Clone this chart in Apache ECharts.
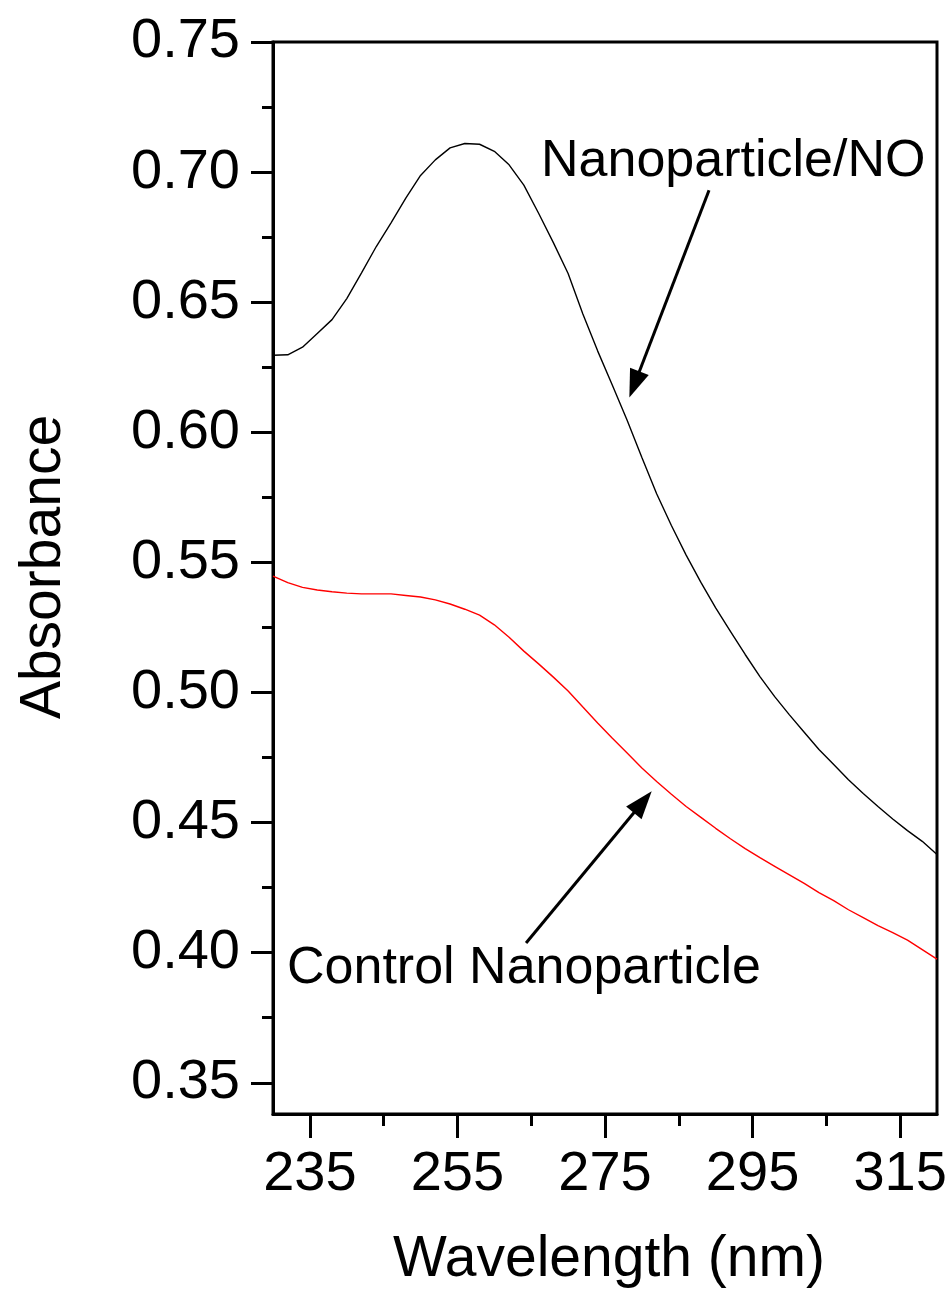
<!DOCTYPE html>
<html>
<head>
<meta charset="utf-8">
<script src="https://cdn.jsdelivr.net/npm/echarts@6/dist/echarts.min.js"></script>
<style>
  html, body { margin: 0; padding: 0; background: #fff; }
  #chart { width: 951px; height: 1303px; }
</style>
</head>
<body>
<div id="chart"></div>
<script>
// wavelength (nm)
const wavelength = [230, 232, 234, 236, 238, 240, 242, 244, 246, 248, 250, 252, 254, 256, 258, 260,
  262, 264, 266, 268, 270, 272, 274, 276, 278, 280, 282, 284, 286, 288, 290, 292, 294, 296, 298, 300,
  302, 304, 306, 308, 310, 312, 314, 316, 318, 320];

// Nanoparticle/NO
const absNO = [0.6296, 0.6298, 0.6327, 0.6380, 0.6433, 0.6514, 0.6613, 0.6714, 0.6805, 0.6900, 0.6987,
  0.7047, 0.7093, 0.7110, 0.7107, 0.7080, 0.7028, 0.6950, 0.6842, 0.6729, 0.6610, 0.6455, 0.6313,
  0.6181, 0.6046, 0.5903, 0.5764, 0.5642, 0.5528, 0.5423, 0.5325, 0.5235, 0.5146, 0.5061, 0.4984,
  0.4914, 0.4847, 0.4781, 0.4723, 0.4665, 0.4612, 0.4562, 0.4514, 0.4469, 0.4428, 0.4377];

// Control Nanoparticle
const absControl = [0.5447, 0.5422, 0.5404, 0.5394, 0.5387, 0.5382, 0.5379, 0.5379, 0.5379, 0.5373,
  0.5367, 0.5356, 0.5340, 0.5320, 0.5297, 0.5260, 0.5212, 0.5159, 0.5110, 0.5059, 0.5006, 0.4944,
  0.4883, 0.4824, 0.4767, 0.4710, 0.4658, 0.4609, 0.4562, 0.4520, 0.4478, 0.4438, 0.4400, 0.4365,
  0.4332, 0.4299, 0.4266, 0.4231, 0.4200, 0.4165, 0.4135, 0.4104, 0.4077, 0.4048, 0.4012, 0.3975];

const xMajor = [235, 255, 275, 295, 315];
const xMinor = [245, 265, 285, 305];
const yMajor = [0.35, 0.40, 0.45, 0.50, 0.55, 0.60, 0.65, 0.70, 0.75];
const yMinor = [0.375, 0.425, 0.475, 0.525, 0.575, 0.625, 0.675, 0.725];

// arrows: [from, to] in data coords (to = centre of the arrow head)
const arrowNO = [[289.1, 0.693], [278.98, 0.6184]];
const arrowControl = [[264.3, 0.4037], [280.12, 0.4579]];

const FONT = '"Liberation Sans", Arial, Helvetica, sans-serif';
const X_MIN = 230, X_MAX = 320;
const Y_MIN = 0.338, Y_MAX = 0.75;

const chart = echarts.init(document.getElementById('chart'));

const black = '#000';
const axisLine = { show: true, lineStyle: { color: black, width: 3 } };

function pairs(ys) {
  return wavelength.map((x, i) => [x, ys[i]]);
}

function arrowLine(a) {
  return [
    { coord: a[0], symbol: 'none' },
    { coord: a[1], symbol: 'triangle', symbolSize: [20, 28] }
  ];
}

const option = {
  backgroundColor: '#fff',
  animation: false,
  textStyle: { fontFamily: FONT, color: black },
  grid: {
    left: 273, top: 42, width: 664, height: 1072,
    show: true, borderColor: black, borderWidth: 3, backgroundColor: 'transparent'
  },
  xAxis: [
    {
      type: 'value', min: X_MIN, max: X_MAX, position: 'bottom',
      axisLine: axisLine,
      axisTick: { show: true, length: 24, customValues: xMajor, lineStyle: { color: black, width: 3 } },
      axisLabel: { customValues: xMajor, fontSize: 56, color: black, margin: 33, fontFamily: FONT },
      splitLine: { show: false },
      name: 'Wavelength (nm)', nameLocation: 'middle', nameGap: 118,
      nameTextStyle: { fontSize: 57, color: black, fontFamily: FONT, padding: [0, 0, 0, 8] }
    },
    {
      type: 'value', min: X_MIN, max: X_MAX, position: 'bottom',
      axisLine: { show: false },
      axisTick: { show: true, length: 12, customValues: xMinor, lineStyle: { color: black, width: 3 } },
      axisLabel: { show: false },
      splitLine: { show: false }
    }
  ],
  yAxis: [
    {
      type: 'value', min: Y_MIN, max: Y_MAX, position: 'left',
      axisLine: axisLine,
      axisTick: { show: true, length: 22, customValues: yMajor, lineStyle: { color: black, width: 3 } },
      axisLabel: {
        customValues: yMajor, fontSize: 56, color: black, margin: 33, fontFamily: FONT,
        formatter: v => v.toFixed(2)
      },
      splitLine: { show: false },
      name: 'Absorbance', nameLocation: 'middle', nameGap: 200, nameRotate: 90,
      nameTextStyle: { fontSize: 57, color: black, fontFamily: FONT, padding: [0, 0, 0, 22] }
    },
    {
      type: 'value', min: Y_MIN, max: Y_MAX, position: 'left',
      axisLine: { show: false },
      axisTick: { show: true, length: 11, customValues: yMinor, lineStyle: { color: black, width: 3 } },
      axisLabel: { show: false },
      splitLine: { show: false }
    }
  ],
  series: [
    {
      name: 'Nanoparticle/NO', type: 'line', xAxisIndex: 0, yAxisIndex: 0,
      data: pairs(absNO), showSymbol: false, smooth: false,
      lineStyle: { color: '#000', width: 1.4 },
      markLine: {
        silent: true, animation: false,
        label: { show: false },
        lineStyle: { color: black, width: 3, type: 'solid' },
        itemStyle: { color: black },
        emphasis: { disabled: true },
        data: [arrowLine(arrowNO), arrowLine(arrowControl)]
      }
    },
    {
      name: 'Control Nanoparticle', type: 'line', xAxisIndex: 0, yAxisIndex: 0,
      data: pairs(absControl), showSymbol: false, smooth: false,
      lineStyle: { color: '#ff0000', width: 1.4 }
    }
  ],
  graphic: [
    {
      type: 'text', left: 541, top: 136,
      style: { text: 'Nanoparticle/NO', fontSize: 52, fontFamily: FONT, fill: black }
    },
    {
      type: 'text', left: 287, top: 943,
      style: { text: 'Control Nanoparticle', fontSize: 52, fontFamily: FONT, fill: black }
    }
  ]
};

chart.setOption(option);
</script>
</body>
</html>
